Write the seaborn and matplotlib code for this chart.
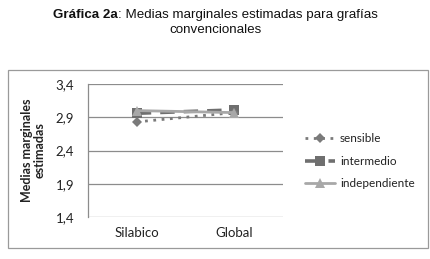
import matplotlib
matplotlib.use("Agg")
import matplotlib.pyplot as plt
import seaborn as sns
import pandas as pd
from matplotlib.patches import Rectangle

categories = ["Silabico", "Global"]
series_names = ["sensible", "intermedio", "independiente"]
sensible = [2.83, 2.97]
intermedio = [2.96, 3.01]
independiente = [3.00, 2.97]
yticks = [1.4, 1.9, 2.4, 2.9, 3.4]
ytick_labels = ["1,4", "1,9", "2,4", "2,9", "3,4"]

rows = []
for name, vals in zip(series_names, [sensible, intermedio, independiente]):
    for c, v in zip(categories, vals):
        rows.append({"cat": c, "val": v, "serie": name})
df = pd.DataFrame(rows)

sns.set_theme(style="white")
plt.rcParams['font.family'] = ['Lato', 'DejaVu Sans']

fig = plt.figure(figsize=(4.31, 2.59), dpi=100)
ax = fig.add_axes([88/431, 1-217/259, 195/431, 133/259])

colors = {"sensible": "#7a7a7a", "intermedio": "#6f6f6f", "independiente": "#a8a8a8"}
styles = {"sensible": (0, (1, 2)), "intermedio": (0, (4, 2.5)), "independiente": "-"}
mk = {"sensible": "D", "intermedio": "s", "independiente": "^"}
ms = {"sensible": 5, "intermedio": 7, "independiente": 7}
lw = {"sensible": 2.0, "intermedio": 2.6, "independiente": 2.0}
order = ["intermedio", "sensible", "independiente"]
handles = {}
for name in order:
    sub = df[df.serie == name]
    sns.lineplot(data=sub, x="cat", y="val", ax=ax, color=colors[name],
                 linestyle=styles[name], linewidth=lw[name], marker=mk[name],
                 markersize=ms[name], markeredgewidth=0, sort=False, legend=False)
    handles[name] = ax.lines[-1]

ax.set_xlim(-0.5, 1.5)
ax.set_ylim(1.4, 3.4)
ax.set_yticks(yticks)
ax.set_yticklabels(ytick_labels)
ax.yaxis.grid(True, color="#8c8c8c", linewidth=0.9)
ax.set_axisbelow(True)
for s in ["top", "right", "bottom"]:
    ax.spines[s].set_visible(False)
ax.spines["left"].set_color("#8c8c8c")
ax.spines["left"].set_linewidth(0.9)
ax.tick_params(axis="both", length=0, labelsize=9.5, colors="#222222", pad=7)
ax.tick_params(axis="y", pad=10)
ax.set_xlabel("")
ax.set_ylabel("Medias marginales\nestimadas", fontsize=9, fontweight="bold",
              color="#222222", labelpad=7, linespacing=1.05)

leg = ax.legend([handles[n] for n in series_names], series_names,
                loc="center left", bbox_to_anchor=(212/195, 0.42),
                frameon=False, fontsize=8.5, handlelength=2.6, handletextpad=0.4,
                labelspacing=0.97, borderaxespad=0)
for t in leg.get_texts():
    t.set_color("#222222")

fig.patches.append(Rectangle((8/431, 1-248/259), 420/431, 178/259,
                             transform=fig.transFigure, fill=False,
                             edgecolor="#9a9a9a", linewidth=0.9))

# Title: bold prefix + regular rest, centered as a whole
fig.canvas.draw()
r = fig.canvas.get_renderer()
tfs = 9.6
t1 = fig.text(0, 1-15/259, "Gráfica 2a", ha="left", va="center", fontsize=tfs,
              fontweight="bold", family=["Liberation Sans"], color="#111111")
t2 = fig.text(0, 1-15/259, ": Medias marginales estimadas para grafías", ha="left",
              va="center", fontsize=tfs, family=["Liberation Sans"], color="#111111")
w1 = t1.get_window_extent(r).width
w2 = t2.get_window_extent(r).width
W = fig.get_figwidth() * fig.dpi
x0 = (W - (w1 + w2)) / 2
t1.set_x(x0 / W)
t2.set_x((x0 + w1) / W)
fig.text(0.5, 1-30/259, "convencionales", ha="center", va="center", fontsize=tfs,
         family=["Liberation Sans"], color="#111111")

fig.savefig("out.png", dpi=100)
